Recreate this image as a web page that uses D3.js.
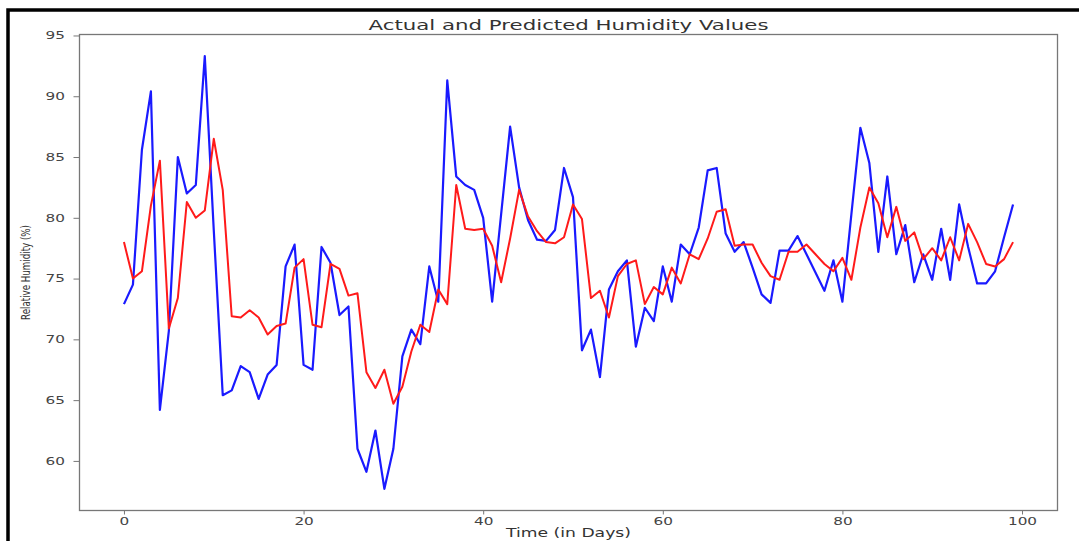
<!DOCTYPE html>
<html>
<head>
<meta charset="utf-8">
<script src="https://cdn.jsdelivr.net/npm/d3@7"></script>
<style>
  body { margin: 0; background: #fff; }
  svg { display: block; font-family: "DejaVu Sans", sans-serif; }
</style>
</head>
<body>
<svg id="chart" width="1079" height="541"></svg>
<script>
const days = d3.range(0, 100);

const actual = [
  72.9, 74.5, 85.6, 90.4, 64.2, 70.7, 85.0, 82.0, 82.7, 93.3,
  79.0, 65.4, 65.8, 67.8, 67.3, 65.1, 67.1, 67.9, 76.0, 77.8,
  67.9, 67.5, 77.6, 76.3, 72.0, 72.7, 61.0, 59.1, 62.5, 57.7,
  61.0, 68.6, 70.8, 69.6, 76.0, 73.1, 91.3, 83.4, 82.7, 82.3,
  80.0, 73.1, 80.3, 87.5, 82.5, 79.8, 78.2, 78.1, 79.0, 84.1,
  81.7, 69.1, 70.8, 66.9, 74.1, 75.6, 76.5, 69.4, 72.6, 71.5,
  76.0, 73.1, 77.8, 77.0, 79.2, 83.9, 84.1, 78.7, 77.2, 78.0,
  75.9, 73.7, 73.0, 77.3, 77.3, 78.5, 77.0, 75.5, 74.0, 76.5,
  73.1, 80.3, 87.4, 84.5, 77.2, 83.4, 77.0, 79.4, 74.7, 77.0,
  74.9, 79.1, 74.9, 81.1, 77.6, 74.6, 74.6, 75.6, 78.4, 81.1
];

const predicted = [
  78.0, 75.0, 75.6, 81.0, 84.7, 70.9, 73.4, 81.3, 80.0, 80.6,
  86.5, 82.3, 71.9, 71.8, 72.4, 71.8, 70.4, 71.1, 71.3, 75.9,
  76.6, 71.2, 71.0, 76.2, 75.8, 73.6, 73.8, 67.3, 66.0, 67.5,
  64.7, 66.1, 69.0, 71.2, 70.6, 74.1, 72.9, 82.7, 79.1, 79.0,
  79.1, 77.7, 74.7, 78.3, 82.3, 80.1, 78.9, 78.0, 77.9, 78.4,
  81.1, 79.9, 73.4, 74.0, 71.8, 75.2, 76.2, 76.5, 72.9, 74.3,
  73.7, 75.9, 74.6, 77.0, 76.6, 78.3, 80.5, 80.7, 77.7, 77.8,
  77.8, 76.3, 75.2, 74.9, 77.2, 77.2, 77.8, 77.0, 76.2, 75.6,
  76.7, 74.9, 79.2, 82.5, 81.2, 78.4, 80.9, 78.1, 78.8, 76.6,
  77.5, 76.5, 78.4, 76.5, 79.5, 78.0, 76.2, 76.0, 76.6, 78.0
];

const xTicks = [0, 20, 40, 60, 80, 100];
const yTicks = [60, 65, 70, 75, 80, 85, 90, 95];

const svg = d3.select("#chart");
const margin = { left: 79.5, right: 1057.5, top: 34.5, bottom: 510.5 };

// matplotlib style 5% margins around the data
const xPad = (d3.max(days) - d3.min(days)) * 0.05;
const x = d3.scaleLinear()
  .domain([d3.min(days) - xPad, d3.max(days) + xPad])
  .range([margin.left, margin.right]);

const allVals = actual.concat(predicted);
const yPad = (d3.max(allVals) - d3.min(allVals)) * 0.05;
const y = d3.scaleLinear()
  .domain([d3.min(allVals) - yPad, d3.max(allVals) + yPad])
  .range([margin.bottom, margin.top]);

// outer black frame of the screenshot
svg.append("rect")
  .attr("x", 8)
  .attr("y", 10)
  .attr("width", 1200)
  .attr("height", 700)
  .attr("fill", "none")
  .attr("stroke", "#000")
  .attr("stroke-width", 3.5);

const line = d3.line()
  .x((d, i) => x(days[i]))
  .y(d => y(d));

svg.append("path")
  .datum(actual)
  .attr("fill", "none")
  .attr("stroke", "#1a1aff")
  .attr("stroke-width", 2.2)
  .attr("stroke-linejoin", "round")
  .attr("d", line);

svg.append("path")
  .datum(predicted)
  .attr("fill", "none")
  .attr("stroke", "#ff1a1a")
  .attr("stroke-width", 2)
  .attr("stroke-linejoin", "round")
  .attr("d", line);

// spines
svg.append("rect")
  .attr("x", margin.left)
  .attr("y", margin.top)
  .attr("width", margin.right - margin.left)
  .attr("height", margin.bottom - margin.top)
  .attr("fill", "none")
  .attr("stroke", "#777")
  .attr("stroke-width", 1.3);

const digitW = 9.7;

const xAxis = svg.append("g")
  .attr("transform", `translate(0,${margin.bottom})`)
  .call(d3.axisBottom(x).tickValues(xTicks).tickSize(4).tickPadding(3).tickSizeOuter(0));
xAxis.select(".domain").remove();
xAxis.selectAll("line").attr("stroke", "#777");
xAxis.selectAll("text")
  .attr("font-size", 10)
  .attr("font-family", "DejaVu Sans")
  .attr("fill", "#444")
  .attr("textLength", d => String(d).length * digitW)
  .attr("lengthAdjust", "spacingAndGlyphs");

const yAxis = svg.append("g")
  .attr("transform", `translate(${margin.left},0)`)
  .call(d3.axisLeft(y).tickValues(yTicks).tickSize(6).tickPadding(8.5).tickSizeOuter(0));
yAxis.select(".domain").remove();
yAxis.selectAll("line").attr("stroke", "#777");
yAxis.selectAll("text")
  .attr("font-size", 10)
  .attr("font-family", "DejaVu Sans")
  .attr("fill", "#444")
  .attr("textLength", d => String(d).length * digitW)
  .attr("lengthAdjust", "spacingAndGlyphs");

const cx = (margin.left + margin.right) / 2;

svg.append("text")
  .attr("x", cx)
  .attr("y", 30)
  .attr("text-anchor", "middle")
  .attr("font-size", 13.5)
  .attr("fill", "#333")
  .attr("textLength", 400)
  .attr("lengthAdjust", "spacingAndGlyphs")
  .text("Actual and Predicted Humidity Values");

svg.append("text")
  .attr("x", cx)
  .attr("y", 537)
  .attr("text-anchor", "middle")
  .attr("font-size", 12.5)
  .attr("fill", "#333")
  .attr("textLength", 125)
  .attr("lengthAdjust", "spacingAndGlyphs")
  .text("Time (in Days)");

svg.append("text")
  .attr("transform", `translate(30,${(margin.top + margin.bottom) / 2}) rotate(-90)`)
  .attr("text-anchor", "middle")
  .attr("font-size", 12.5)
  .attr("fill", "#333")
  .attr("textLength", 95)
  .attr("lengthAdjust", "spacingAndGlyphs")
  .text("Relative Humidity (%)");
</script>
</body>
</html>
